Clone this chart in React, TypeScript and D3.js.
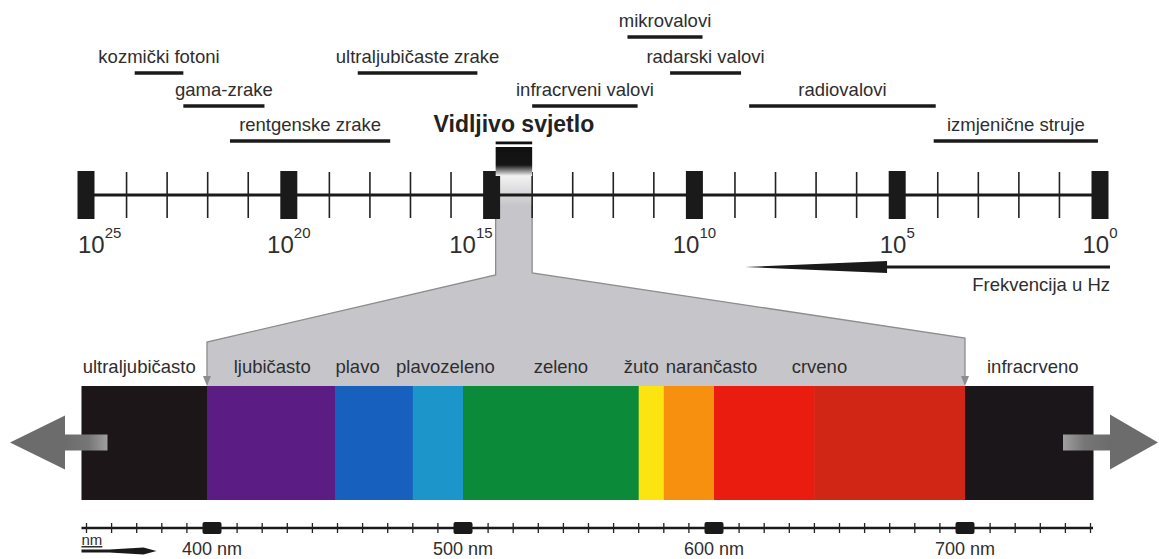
import * as d3 from "d3";

const W = 1159;
const H = 559;

// gornja skala: eksponenti frekvencije (log10 Hz)
const decadeExponents = [25, 20, 15, 10, 5, 0];

// područja elektromagnetskog spektra (log10 Hz, od - do)
const bandNames = [
  "kozmički fotoni",
  "gama-zrake",
  "rentgenske zrake",
  "ultraljubičaste zrake",
  "infracrveni valovi",
  "mikrovalovi",
  "radarski valovi",
  "radiovalovi",
  "izmjenične struje",
];
const bandHigh = [23.8, 22.6, 21.45, 18.3, 14.0, 11.65, 10.6, 8.65, 4.1];
const bandLow = [22.6, 20.6, 17.5, 15.35, 11.4, 9.8, 8.85, 4.05, 0.05];

// vidljivo svjetlo
const visibleHigh = 14.9;
const visibleLow = 14.0;

// donja skala: valne duljine (nm)
const segmentEdges = [348, 398, 449, 480, 500, 570, 580, 600, 640, 700, 751];
const segmentColors = [
  "#1d1618",
  "#5b1d83",
  "#1760bd",
  "#1c95cb",
  "#0b8a3a",
  "#fbe40f",
  "#f7900f",
  "#ea1c10",
  "#d12515",
  "#1b1619",
];
const colorNames = [
  "ultraljubičasto",
  "ljubičasto",
  "plavo",
  "plavozeleno",
  "zeleno",
  "žuto",
  "narančasto",
  "crveno",
  "infracrveno",
];
const colorLabelNm = [371, 424, 458, 493, 539, 571, 599, 642, 727];
const nmMajor = [400, 500, 600, 700];

export default function App() {
  const font = "'Liberation Sans', Arial, Helvetica, sans-serif";
  const ink = "#2e2e2e";

  // skale
  const xF = d3.scaleLinear().domain([25, 0]).range([86, 1100]);
  const xW = d3.scaleLinear().domain([400, 700]).range([212, 965]);

  const axisY = 195;
  const minorExp = d3.range(25, -1, -1).filter((e) => e % 5 !== 0);
  const rowY = [27, 63, 96, 131];
  const rowOf = [1, 2, 3, 1, 2, 0, 1, 2, 3];

  const barTop = 386;
  const barBottom = 500;
  const barMid = (barTop + barBottom) / 2 - 0.5;
  const nmY = 528;
  const nmTicks = d3.range(350, 751, 10);

  const colL = xF(visibleHigh);
  const colR = xF(visibleLow);
  const leftX = xW(segmentEdges[1]);
  const rightX = xW(segmentEdges[9]);
  const shape: [number, number][] = [
    [colL, 173],
    [colR, 173],
    [colR, 273],
    [rightX, 338],
    [rightX, barTop],
    [leftX, barTop],
    [leftX, 342],
    [colL, 275],
  ];
  const line = d3.line();

  // strelica frekvencije
  const fy = 267;
  const fTip = xF(8.75);
  const fBase = xF(5.25);
  const fEnd = xF(0) + 10;

  // strelice lijevo/desno
  const barL = xW(segmentEdges[0]);
  const barR = xW(segmentEdges[segmentEdges.length - 1]);

  return (
    <svg
      width={W}
      height={H}
      style={{ position: "absolute", left: 0, top: 0, background: "#fff" }}
      fontFamily={font}
    >
      <defs>
        <linearGradient id="colTop" x1="0" y1="173" x2="0" y2="206" gradientUnits="userSpaceOnUse">
          <stop offset="0" stopColor="#f6f6f6" />
          <stop offset="1" stopColor="#c6c6ca" />
        </linearGradient>
        <linearGradient id="marker" x1="0" y1="147" x2="0" y2="176" gradientUnits="userSpaceOnUse">
          <stop offset="0" stopColor="#111" />
          <stop offset="0.62" stopColor="#151515" />
          <stop offset="1" stopColor="#f6f6f6" />
        </linearGradient>
        <linearGradient id="shaftL" x1="0" y1="0" x2="1" y2="0">
          <stop offset="0" stopColor="#6c6c6c" />
          <stop offset="0.55" stopColor="#767676" />
          <stop offset="1" stopColor="#a0a0a0" />
        </linearGradient>
        <linearGradient id="shaftR" x1="0" y1="0" x2="1" y2="0">
          <stop offset="0" stopColor="#a0a0a0" />
          <stop offset="0.45" stopColor="#767676" />
          <stop offset="1" stopColor="#6c6c6c" />
        </linearGradient>
      </defs>

      {/* siva poveznica */}
      <path d={line(shape) + "Z"} fill="#c6c6ca" />
      <rect x={colL} y={173} width={colR - colL} height={33} fill="url(#colTop)" />
      <path
        d={line([
          [leftX, 376],
          [leftX, 342],
          [colL, 275],
          [colL, 205],
        ])!}
        fill="none"
        stroke="#8d8d8d"
        strokeWidth={1.3}
      />
      <path
        d={line([
          [colR, 205],
          [colR, 273],
          [rightX, 338],
          [rightX, 376],
        ])!}
        fill="none"
        stroke="#8d8d8d"
        strokeWidth={1.3}
      />
      {[leftX, rightX].map((x, i) => (
        <path key={i} d={`M${x - 4},376L${x + 4},376L${x},${barTop}Z`} fill="#8d8d8d" />
      ))}

      {/* gornja os */}
      <line x1={xF(25)} x2={xF(0)} y1={axisY} y2={axisY} stroke="#1a1a1a" strokeWidth={3} />
      {minorExp.map((e) => (
        <line key={e} x1={xF(e)} x2={xF(e)} y1={172} y2={218} stroke="#222" strokeWidth={1.6} />
      ))}
      {decadeExponents.map((e) => (
        <rect key={e} x={xF(e) - 8.5} y={171} width={17} height={48} fill="#1a1a1a" />
      ))}
      {decadeExponents.map((e, i) => {
        const hitsColumn = xF(e) + 24 > colL && xF(e) < colR;
        const first = i === 0;
        return (
          <text
            key={e}
            x={hitsColumn ? xF(e) + 1 : first ? xF(e) - 8 : xF(e)}
            y={253}
            fontSize={24}
            fill={ink}
            textAnchor={hitsColumn ? "end" : first ? "start" : "middle"}
          >
            10
            <tspan dy={-15} fontSize={15}>
              {e}
            </tspan>
          </text>
        );
      })}

      {/* oznaka vidljivog svjetla */}
      <rect x={colL} y={141.5} width={colR - colL} height={2.8} fill="#111" />
      <rect x={colL} y={147} width={colR - colL} height={29} fill="url(#marker)" />
      <text x={(colL + colR) / 2} y={132} fontSize={23} fontWeight="bold" fill="#222" textAnchor="middle">
        Vidljivo svjetlo
      </text>

      {/* područja */}
      {bandNames.map((name, i) => {
        const y = rowY[rowOf[i]];
        const x1 = xF(bandHigh[i]);
        const x2 = xF(bandLow[i]);
        return (
          <g key={name}>
            <text x={(x1 + x2) / 2} y={y} fontSize={18.5} fill={ink} textAnchor="middle">
              {name}
            </text>
            <line x1={x1} x2={x2} y1={y + 10} y2={y + 10} stroke="#1a1a1a" strokeWidth={3.5} />
          </g>
        );
      })}

      {/* strelica frekvencije */}
      <path
        d={`M${fTip},${fy}L${fBase},${fy - 6}L${fBase},${fy - 1.5}L${fEnd},${fy - 1.5}L${fEnd},${fy + 1.5}L${fBase},${fy + 1.5}L${fBase},${fy + 6}Z`}
        fill="#1a1a1a"
      />
      <text x={fEnd} y={291} fontSize={18.5} fill={ink} textAnchor="end">
        Frekvencija u Hz
      </text>

      {/* spektar */}
      {segmentColors.map((c, i) => (
        <rect
          key={i}
          x={xW(segmentEdges[i])}
          y={barTop}
          width={xW(segmentEdges[i + 1]) - xW(segmentEdges[i]) + 0.5}
          height={barBottom - barTop}
          fill={c}
        />
      ))}
      {colorNames.map((name, i) => (
        <text key={name} x={xW(colorLabelNm[i])} y={373} fontSize={18.5} fill={ink} textAnchor="middle">
          {name}
        </text>
      ))}

      {/* lijeva strelica */}
      <rect x={65} y={barMid - 8} width={barL + 26 - 65} height={16} fill="url(#shaftL)" />
      <path d={`M10,${barMid}L65,${barMid - 27}L65,${barMid + 27}Z`} fill="#6c6c6c" />
      {/* desna strelica */}
      <rect x={barR - 30} y={barMid - 8} width={1110 - (barR - 30)} height={16} fill="url(#shaftR)" />
      <path d={`M1158,${barMid}L1110,${barMid - 28}L1110,${barMid + 27}Z`} fill="#6c6c6c" />

      {/* donja os (nm) */}
      <line x1={barL} x2={barR} y1={nmY} y2={nmY} stroke="#1a1a1a" strokeWidth={2.6} />
      {nmTicks.map((v) => (
        <line key={v} x1={xW(v)} x2={xW(v)} y1={nmY - 5} y2={nmY + 5} stroke="#222" strokeWidth={1.3} />
      ))}
      {nmMajor.map((v) => (
        <g key={v}>
          <rect x={xW(v) - 9.5} y={nmY - 6} width={19} height={12} rx={2} fill="#1a1a1a" />
          <text x={xW(v)} y={555} fontSize={18} fill={ink} textAnchor="middle">
            {v} nm
          </text>
        </g>
      ))}
      <text x={barL} y={545} fontSize={15} fill={ink} textDecoration="underline">
        nm
      </text>
      <path
        d={`M${barL},${551 - 1.5}L${barL + 28},${551 - 1.5}L${barL + 62},${551 - 3.5}L${barL + 75},${551}L${barL + 62},${551 + 3.5}L${barL + 28},${551 + 1.5}L${barL},${551 + 1.5}Z`}
        fill="#1a1a1a"
      />
    </svg>
  );
}
